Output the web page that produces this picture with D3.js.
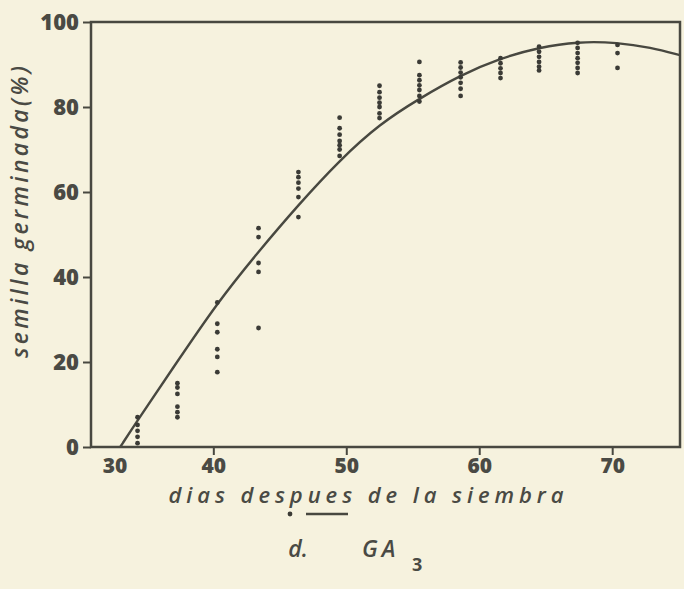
<!DOCTYPE html>
<html>
<head>
<meta charset="utf-8">
<script src="https://cdn.jsdelivr.net/npm/d3@7/dist/d3.min.js"></script>
<style>
  html, body { margin: 0; padding: 0; background: #f6f2de; }
  svg { display: block; }
  text { fill: #4a4a44; }
</style>
</head>
<body>
<svg id="chart" width="684" height="589"></svg>
<script>
// Germination of GA3-treated seed: observed percentages per sampling day and fitted curve
const xTickValues = [40, 50, 60, 70];
const yTickValues = [0, 20, 40, 60, 80, 100];

const sampleDays = [34.3, 37.3, 40.3, 43.4, 46.4, 49.5, 52.5, 55.5, 58.6, 61.6, 64.5, 67.4, 70.4];
const germinated = [
  [7, 5.2, 3.8, 2.4, 0.9],
  [15, 14, 12.5, 9.5, 8.2, 7],
  [34, 29, 27, 23, 21.2, 17.6],
  [51.5, 49.4, 43.3, 41.2, 28],
  [64.7, 63.5, 62.2, 60.8, 58.8, 54.1],
  [77.5, 75, 73.5, 72, 71, 70, 68.5],
  [85, 83.5, 82.2, 81, 80, 78.5, 77.4],
  [90.6, 87.5, 86.3, 85.1, 84, 82.6, 81.3],
  [90.5, 89.3, 88.1, 87, 85.7, 84.3, 82.6],
  [91.5, 90.3, 89.1, 88, 86.8],
  [94.2, 93, 91.8, 90.6, 89.5, 88.6],
  [95.1, 93.9, 92.7, 91.5, 90.4, 89.2, 88],
  [94.6, 92.7, 89.2]
];

const fitDays   = [33.0, 34.3, 36.8, 40.3, 43.4, 46.4, 49.5, 52.5, 55.5, 58.6, 61.6, 64.5, 67.4, 70.4, 72.9, 75.1];
const fitValues = [0, 6.3, 17.8, 34, 46, 57, 67.5, 76, 82, 87.5, 91.5, 94, 95.4, 95.2, 94, 92.2];

const ink = "#484840";
const svg = d3.select("#chart");

svg.append("rect").attr("width", 684).attr("height", 589).attr("fill", "#f6f2de");

const x = d3.scaleLinear().domain([30.8, 75.1]).range([91, 680]);
const y = d3.scaleLinear().domain([0, 100]).range([447, 22]);

// Frame
svg.append("rect")
  .attr("x", x.range()[0]).attr("y", y.range()[1])
  .attr("width", x.range()[1] - x.range()[0])
  .attr("height", y.range()[0] - y.range()[1])
  .attr("fill", "none").attr("stroke", ink).attr("stroke-width", 2.5);

const tickFont = "'Open Sans', 'DejaVu Sans', sans-serif";

// X axis
const gx = svg.append("g")
  .attr("transform", `translate(0,${y.range()[0]})`)
  .call(d3.axisBottom(x).tickValues(xTickValues).tickSize(8).tickPadding(3).tickFormat(d3.format("d")));
gx.select(".domain").remove();
gx.selectAll("line").attr("stroke", ink).attr("stroke-width", 2);
gx.selectAll("text")
  .attr("font-family", tickFont).attr("font-weight", 800).attr("font-size", 21)
  .attr("fill", "#4a4a44");

// leftmost x label sits at the corner of the axis
svg.append("text")
  .attr("x", x.range()[0] + 24).attr("y", y.range()[0] + 11)
  .attr("dy", "0.71em").attr("text-anchor", "middle")
  .attr("font-family", tickFont).attr("font-weight", 800).attr("font-size", 21)
  .text("30");

// Y axis
const gy = svg.append("g")
  .attr("transform", `translate(${x.range()[0]},0)`)
  .call(d3.axisLeft(y).tickValues(yTickValues).tickSize(8).tickPadding(4).tickFormat(d3.format("d")));
gy.select(".domain").remove();
gy.selectAll("line").attr("stroke", ink).attr("stroke-width", 2);
gy.selectAll("text")
  .attr("font-family", tickFont).attr("font-weight", 800).attr("font-size", 22)
  .attr("fill", "#4a4a44");

// Axis titles
const titleFont = "'Open Sans', sans-serif";
svg.append("text")
  .attr("x", 366).attr("y", 503)
  .attr("text-anchor", "middle")
  .attr("font-family", titleFont).attr("font-style", "italic").attr("font-weight", 600)
  .attr("font-size", 22)
  .attr("textLength", 395).attr("lengthAdjust", "spacing")
  .text("dias despues de la siembra");

svg.append("text")
  .attr("transform", "translate(28,212) rotate(-90)")
  .attr("text-anchor", "middle")
  .attr("font-family", titleFont).attr("font-style", "italic").attr("font-weight", 600)
  .attr("font-size", 23)
  .attr("textLength", 292).attr("lengthAdjust", "spacing")
  .text("semilla germinada(%)");

// Fitted curve, clipped to the frame
svg.append("clipPath").attr("id", "plot-clip")
  .append("rect")
  .attr("x", x.range()[0]).attr("y", y.range()[1])
  .attr("width", x.range()[1] - x.range()[0])
  .attr("height", y.range()[0] - y.range()[1]);

const line = d3.line()
  .x((d, i) => x(fitDays[i]))
  .y(d => y(d))
  .curve(d3.curveBasis);

svg.append("path")
  .datum(fitValues)
  .attr("clip-path", "url(#plot-clip)")
  .attr("d", line)
  .attr("fill", "none").attr("stroke", ink).attr("stroke-width", 2.4);

// Observations
const points = sampleDays.flatMap((day, i) => germinated[i].map(v => ({ day, v })));
svg.append("g").selectAll("circle")
  .data(points)
  .join("circle")
  .attr("cx", d => x(d.day))
  .attr("cy", d => y(d.v))
  .attr("r", 2.4)
  .attr("fill", "#3b3b36");

// Legend
const lg = svg.append("g");
lg.append("circle").attr("cx", 290).attr("cy", 514).attr("r", 2.4).attr("fill", "#3b3b36");
lg.append("line").attr("x1", 306).attr("x2", 348).attr("y1", 514).attr("y2", 514)
  .attr("stroke", ink).attr("stroke-width", 2.6);
lg.append("text")
  .attr("x", 298).attr("y", 557).attr("text-anchor", "middle")
  .attr("font-family", titleFont).attr("font-style", "italic").attr("font-weight", 600)
  .attr("font-size", 23)
  .text("d.");
lg.append("text")
  .attr("x", 362).attr("y", 557)
  .attr("font-family", titleFont).attr("font-style", "italic").attr("font-weight", 600)
  .attr("font-size", 23).attr("letter-spacing", 4)
  .text("GA");
lg.append("text")
  .attr("x", 412).attr("y", 571)
  .attr("font-family", titleFont).attr("font-weight", 700)
  .attr("font-size", 18)
  .text("3");
</script>
</body>
</html>
